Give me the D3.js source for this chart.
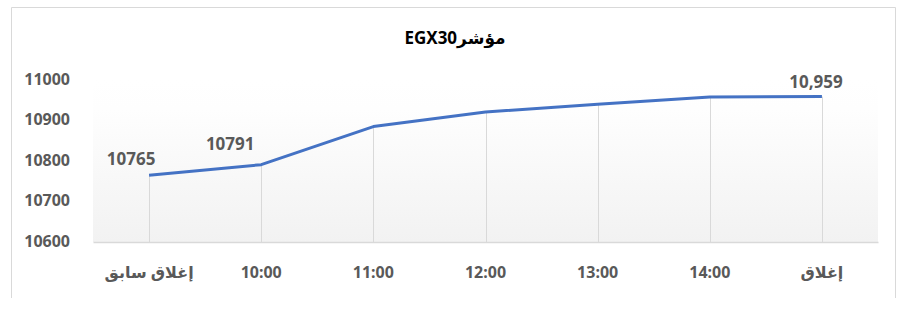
<!DOCTYPE html>
<html>
<head>
<meta charset="utf-8">
<script src="https://cdn.jsdelivr.net/npm/d3@7"></script>
<style>
  body { margin: 0; background: #fff; }
  svg { display: block; font-family: "Noto Sans", "Open Sans", "DejaVu Sans", sans-serif; }
</style>
</head>
<body>
<svg id="chart"></svg>
<script>
const WIDTH = 900;
const HEIGHT = 324;

// data
const categories = ["إغلاق سابق", "10:00", "11:00", "12:00", "13:00", "14:00", "إغلاق"];
const values = [10765, 10791, 10885, 10921, 10940, 10958, 10959];
const yTicks = [10600, 10700, 10800, 10900, 11000];
// data labels shown on the chart
const labelIndex = [0, 1, 6];
const labelText = ["10765", "10791", "10,959"];
const title = "مؤشرEGX30";

// hand-placed label offsets (dx, dy from the point), like in the original
const labelOffset = [[-18, -10], [-31, -15], [-6, -9]];

const LINE_COLOR = "#4472C4";
const GRID_COLOR = "#d9d9d9";
const TEXT_COLOR = "#595959";
const FONT = "\"Noto Sans\", \"Open Sans\", \"DejaVu Sans\", sans-serif";

const plot = { left: 93, right: 878, top: 80, bottom: 242 };

const svg = d3.select("#chart").attr("width", WIDTH).attr("height", HEIGHT);

// outer frame (no bottom edge visible)
svg.append("path")
  .attr("d", "M11.5,298 V7.5 H895.5 V298")
  .attr("fill", "none")
  .attr("stroke", GRID_COLOR)
  .attr("stroke-width", 1);

const x = d3.scaleBand()
  .domain(categories)
  .range([plot.left, plot.right]);

const y = d3.scaleLinear()
  .domain([10600, 11000])
  .range([plot.bottom, plot.top]);

const cx = d => x(d) + x.bandwidth() / 2;

// plot area background gradient
const grad = svg.append("defs").append("linearGradient")
  .attr("id", "bg")
  .attr("x1", 0).attr("y1", 0).attr("x2", 0).attr("y2", 1);
grad.append("stop").attr("offset", "0%").attr("stop-color", "#ffffff");
grad.append("stop").attr("offset", "18%").attr("stop-color", "#fefefe");
grad.append("stop").attr("offset", "100%").attr("stop-color", "#f2f2f2");

svg.append("rect")
  .attr("x", plot.left)
  .attr("y", plot.top)
  .attr("width", plot.right - plot.left)
  .attr("height", plot.bottom - plot.top)
  .attr("fill", "url(#bg)");

// drop lines from each point to the axis
svg.append("g")
  .selectAll("line")
  .data(categories)
  .join("line")
  .attr("x1", d => Math.round(cx(d)) + 0.5)
  .attr("x2", d => Math.round(cx(d)) + 0.5)
  .attr("y1", (d, i) => y(values[i]))
  .attr("y2", plot.bottom)
  .attr("stroke", GRID_COLOR)
  .attr("stroke-width", 1);

// x axis
const xAxis = d3.axisBottom(x).tickSize(0).tickPadding(25);
const gx = svg.append("g")
  .attr("transform", `translate(0,${plot.bottom})`)
  .call(xAxis);
gx.select(".domain").attr("stroke", GRID_COLOR).attr("stroke-width", 1.5);
gx.selectAll(".tick text")
  .attr("fill", TEXT_COLOR)
  .style("font-size", "16px")
  .style("font-weight", "bold")
  .style("font-family", FONT);

// y axis
const yAxis = d3.axisLeft(y).tickValues(yTicks).tickSize(0).tickPadding(23).tickFormat(d3.format("d"));
const gy = svg.append("g")
  .attr("transform", `translate(${plot.left},0)`)
  .call(yAxis);
gy.select(".domain").remove();
gy.selectAll(".tick text")
  .attr("fill", TEXT_COLOR)
  .attr("dy", "0.28em")
  .style("font-size", "16px")
  .style("font-weight", "bold")
  .style("font-family", FONT);

// line
const line = d3.line()
  .x((d, i) => cx(categories[i]))
  .y(d => y(d));

svg.append("path")
  .datum(values)
  .attr("d", line)
  .attr("fill", "none")
  .attr("stroke", LINE_COLOR)
  .attr("stroke-width", 3)
  .attr("stroke-linejoin", "round");

// data labels
svg.append("g")
  .selectAll("text")
  .data(labelIndex)
  .join("text")
  .attr("x", (d, k) => cx(categories[d]) + labelOffset[k][0])
  .attr("y", (d, k) => y(values[d]) + labelOffset[k][1])
  .attr("text-anchor", "middle")
  .attr("fill", TEXT_COLOR)
  .style("font-size", "17px")
  .style("font-weight", "bold")
  .text((d, k) => labelText[k]);

// title
svg.append("text")
  .attr("x", 455)
  .attr("y", 44)
  .attr("text-anchor", "middle")
  .attr("direction", "rtl")
  .attr("fill", "#000")
  .style("font-size", "17px")
  .style("font-weight", "bold")
  .text(title);
</script>
</body>
</html>
